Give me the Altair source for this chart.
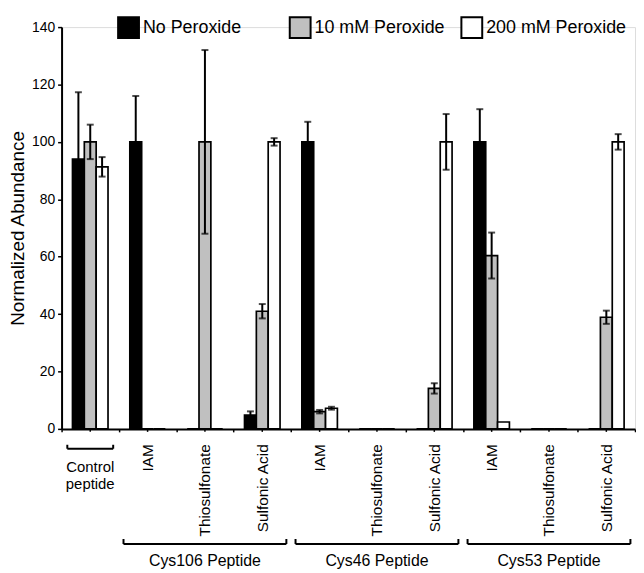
import altair as alt
import pandas as pd

# ---- data ----
groups = ["Control", "Cys106|IAM", "Cys106|Thiosulfonate", "Cys106|Sulfonic Acid",
          "Cys46|IAM", "Cys46|Thiosulfonate", "Cys46|Sulfonic Acid",
          "Cys53|IAM", "Cys53|Thiosulfonate", "Cys53|Sulfonic Acid"]
series = ["No Peroxide", "10 mM Peroxide", "200 mM Peroxide"]
colors = ["#000000", "#c0c0c0", "#ffffff"]

no_perox = [94, 100, 0, 4.8, 100, 0, 0, 100, 0, 0]
no_perox_err = [23.3, 16, 0, 1.3, 7, 0, 0, 11.4, 0, 0]
mm10 = [100, 0, 100, 41, 6, 0, 14.1, 60.4, 0, 38.9]
mm10_err = [6, 0, 32, 2.5, 0.6, 0, 1.8, 8, 0, 2.3]
mm200 = [91.3, 0, 0, 100, 7.2, 0, 100, 2.4, 0, 100]
mm200_err = [3.4, 0, 0, 1.3, 0.5, 0, 9.7, 0, 0, 2.7]

peptides = ["Cys106 Peptide", "Cys46 Peptide", "Cys53 Peptide"]
bracket_start = ["Cys106|IAM", "Cys46|IAM", "Cys53|IAM"]
bracket_mid = ["Cys106|Thiosulfonate", "Cys46|Thiosulfonate", "Cys53|Thiosulfonate"]
bracket_end = ["Cys106|Sulfonic Acid", "Cys46|Sulfonic Acid", "Cys53|Sulfonic Acid"]
control_label = "Control\npeptide"

# ---- tables ----
rows = []
for vals, errs, s in [(no_perox, no_perox_err, series[0]),
                      (mm10, mm10_err, series[1]),
                      (mm200, mm200_err, series[2])]:
    for g, v, e in zip(groups, vals, errs):
        rows.append({"group": g, "series": s, "value": v, "err": e,
                     "lo": v - e, "hi": v + e})
df = pd.DataFrame(rows)
err_df = df[df["err"] > 0]
br_df = pd.DataFrame({"start": bracket_start, "mid": bracket_mid,
                      "end": bracket_end, "label": peptides})
ctrl_df = pd.DataFrame({"group": [groups[0]], "label": [control_label]})
grp_df = pd.DataFrame({"group": groups})

W, H = 578, 405
FONT = "Liberation Sans"

x_scale = alt.Scale(domain=groups, paddingInner=0, paddingOuter=0)
xo_scale = alt.Scale(domain=series, paddingInner=0, paddingOuter=0.92)
y_scale = alt.Scale(domain=[0, 140], nice=False)

x_axis = alt.Axis(title=None, labelAngle=270, labelFontSize=15.5, labelPadding=12,
                  labelExpr="indexof(datum.label, '|') >= 0 ? split(datum.label, '|')[1] : ''",
                  tickBand="extent", tickSize=3, tickWidth=1.5, domainWidth=2,
                  grid=False, labelColor="black", domainColor="black", tickColor="black")
y_axis = alt.Axis(title="Normalized Abundance", values=list(range(0, 141, 20)),
                  labelFontSize=14, labelPadding=3, tickSize=4, tickWidth=1.5,
                  domainWidth=2, titleFontSize=19, titleFontWeight="normal",
                  titlePadding=4, grid=False, labelColor="black", titleColor="black",
                  domainColor="black", tickColor="black")

legend = alt.Legend(title=None, orient="none", legendX=56, legendY=-11,
                    direction="horizontal", columns=3, symbolType="square",
                    symbolSize=441, symbolStrokeColor="black", symbolStrokeWidth=2,
                    labelFontSize=18, labelColor="black", labelOffset=3,
                    columnPadding=2, gridAlign="all", labelLimit=0)


def X(field, **kw):
    return alt.X(field, scale=x_scale, axis=x_axis, **kw)


def Y(field):
    return alt.Y(field, scale=y_scale, axis=y_axis)


bars = alt.Chart(df).mark_bar(stroke="black", strokeWidth=1.7).encode(
    x=X("group:N"),
    xOffset=alt.XOffset("series:N", scale=xo_scale),
    y=Y("value:Q"),
    fill=alt.Fill("series:N", scale=alt.Scale(domain=series, range=colors), legend=legend),
)

err_rule = alt.Chart(err_df).mark_rule(color="black", strokeWidth=2).encode(
    x=X("group:N"),
    xOffset=alt.XOffset("series:N", scale=xo_scale),
    y=Y("lo:Q"),
    y2="hi:Q",
)
cap_hi = alt.Chart(err_df).mark_tick(color="black", thickness=2, size=7).encode(
    x=X("group:N"),
    xOffset=alt.XOffset("series:N", scale=xo_scale),
    y=Y("hi:Q"),
)
cap_lo = alt.Chart(err_df).mark_tick(color="black", thickness=2, size=7).encode(
    x=X("group:N"),
    xOffset=alt.XOffset("series:N", scale=xo_scale),
    y=Y("lo:Q"),
)

center_ticks = alt.Chart(grp_df).mark_rule(color="black", strokeWidth=1.5).encode(
    x=X("group:N"),
    y=alt.value(H), y2=alt.value(H + 3),
)

BR_Y = 521
br_line = alt.Chart(br_df).mark_rule(color="black", strokeWidth=2).encode(
    x=X("start:N", bandPosition=0.08),
    x2=alt.X2("end:N", bandPosition=0.92),
    y=alt.value(BR_Y),
)
br_l = alt.Chart(br_df).mark_rule(color="black", strokeWidth=2).encode(
    x=X("start:N", bandPosition=0.08),
    y=alt.value(BR_Y), y2=alt.value(BR_Y - 5),
)
br_r = alt.Chart(br_df).mark_rule(color="black", strokeWidth=2).encode(
    x=X("end:N", bandPosition=0.92),
    y=alt.value(BR_Y), y2=alt.value(BR_Y - 5),
)
br_text = alt.Chart(br_df).mark_text(fontSize=16, baseline="middle", color="black").encode(
    x=X("mid:N"),
    y=alt.value(BR_Y + 17),
    text="label:N",
)

CB_Y = 425
cb_line = alt.Chart(ctrl_df).mark_rule(color="black", strokeWidth=2).encode(
    x=X("group:N", bandPosition=0.1),
    x2=alt.X2("group:N", bandPosition=0.9),
    y=alt.value(CB_Y),
)
cb_l = alt.Chart(ctrl_df).mark_rule(color="black", strokeWidth=2).encode(
    x=X("group:N", bandPosition=0.1),
    y=alt.value(CB_Y), y2=alt.value(CB_Y - 4),
)
cb_r = alt.Chart(ctrl_df).mark_rule(color="black", strokeWidth=2).encode(
    x=X("group:N", bandPosition=0.9),
    y=alt.value(CB_Y), y2=alt.value(CB_Y - 4),
)
cb_text = alt.Chart(ctrl_df).mark_text(fontSize=15, baseline="top", lineBreak="\n",
                                       lineHeight=18, color="black").encode(
    x=X("group:N"),
    y=alt.value(CB_Y + 11),
    text="label:N",
)

chart = alt.layer(
    bars, err_rule, cap_hi, cap_lo, center_ticks,
    br_line, br_l, br_r, br_text,
    cb_line, cb_l, cb_r, cb_text,
).properties(
    width=W, height=H,
    padding={"left": 0, "top": 6, "right": 0, "bottom": 0},
    background="white",
).configure_view(strokeWidth=0).configure(font=FONT)

chart.save("out.html", embed_options={"renderer": "svg", "actions": False})
